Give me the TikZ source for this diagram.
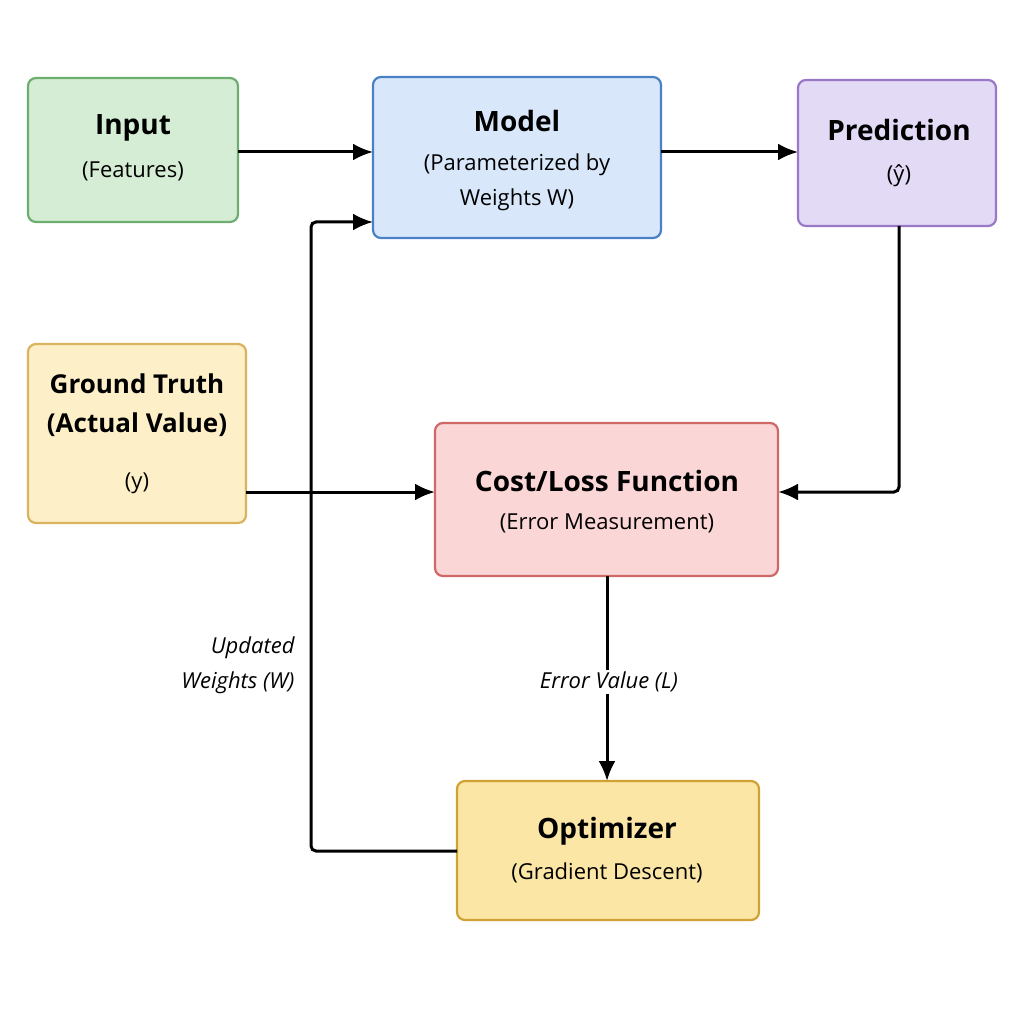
\documentclass[tikz,border=0pt]{standalone}
\usepackage{fontspec}
\setmainfont{Open Sans}
\usetikzlibrary{arrows.meta}
\begin{document}
\begin{tikzpicture}[x=1pt,y=-1pt,
  box/.style={draw,line width=2.2pt,rounded corners=8pt,align=center},
  ttl/.style={font=\fontsize{28}{33}\selectfont\bfseries},
  sub/.style={font=\fontsize{22}{35}\selectfont},
  conn/.style={line width=3pt,-{Latex[length=20pt,width=17pt]},rounded corners=5pt},
  lbl/.style={font=\fontsize{22}{35}\selectfont\itshape,fill=white,inner sep=2pt}]
\useasboundingbox (0,0) rectangle (1024,1024);
\definecolor{gF}{HTML}{D6EDD5}\definecolor{gB}{HTML}{6DAE70}
\definecolor{bF}{HTML}{D8E7FA}\definecolor{bB}{HTML}{4A80C4}
\definecolor{pF}{HTML}{E3DAF5}\definecolor{pB}{HTML}{9A78C8}
\definecolor{yF}{HTML}{FDEFC7}\definecolor{yB}{HTML}{D9B35E}
\definecolor{rF}{HTML}{FBD6D6}\definecolor{rB}{HTML}{D06868}
\definecolor{oF}{HTML}{FBE6A6}\definecolor{oB}{HTML}{CFA233}
\draw[box,fill=gF,draw=gB] (28,78) rectangle (238,222);
\node[ttl] (inT) at (133,128) {Input};
\node[sub] (inS) at (133,171) {(Features)};
\coordinate (inR) at (238,152);
\draw[box,fill=bF,draw=bB] (373,77) rectangle (661,238);
\node[ttl] (mT) at (517,121) {Model};
\node[sub,align=center] (mS) at (517,182) {(Parameterized by\\Weights W)};
\coordinate (mL) at (373,152); \coordinate (mL2) at (373,222); \coordinate (mR) at (661,152);
\draw[box,fill=pF,draw=pB] (798,80) rectangle (996,226);
\node[ttl] (pT) at (899,130) {Prediction};
\node[sub] (pS) at (899,176) {(ŷ)};
\coordinate (pL) at (798,152); \coordinate (pB) at (899,226);
\draw[box,fill=yF,draw=yB] (28,344) rectangle (246,523);
\node[ttl,align=center,font=\fontsize{26}{39}\selectfont\bfseries] (gT) at (137,405) {Ground Truth\\(Actual Value)};
\node[sub] (gS) at (137,483) {(y)};
\coordinate (gR) at (246,492);
\draw[box,fill=rF,draw=rB] (435,423) rectangle (778,576);
\node[ttl] (cT) at (607,481) {Cost/Loss Function};
\node[sub] (cS) at (607,523) {(Error Measurement)};
\coordinate (cL) at (435,492); \coordinate (cR) at (778,492); \coordinate (cB) at (607,576);
\draw[box,fill=oF,draw=oB] (457,781) rectangle (759,920);
\node[ttl] (oT) at (607,831) {Optimizer};
\node[sub] (oS) at (607,873) {(Gradient Descent)};
\coordinate (oT2) at (607,781); \coordinate (oL) at (457,851);
\draw[conn] (inR) -- (mL);
\draw[conn] (mR) -- (pL);
\draw[conn] (pB) |- (cR);
\draw[conn] (gR) -- (cL);
\draw[conn] (cB) -- (oT2);
\node[lbl] (eL) at (609,682) {Error Value (L)};
\draw[conn] (oL) -| (311,222) -- (mL2);
\node[font=\fontsize{22}{35}\selectfont\itshape,align=right,anchor=east] (uL) at (298,665) {Updated\\Weights (W)};
\end{tikzpicture}
\end{document}
